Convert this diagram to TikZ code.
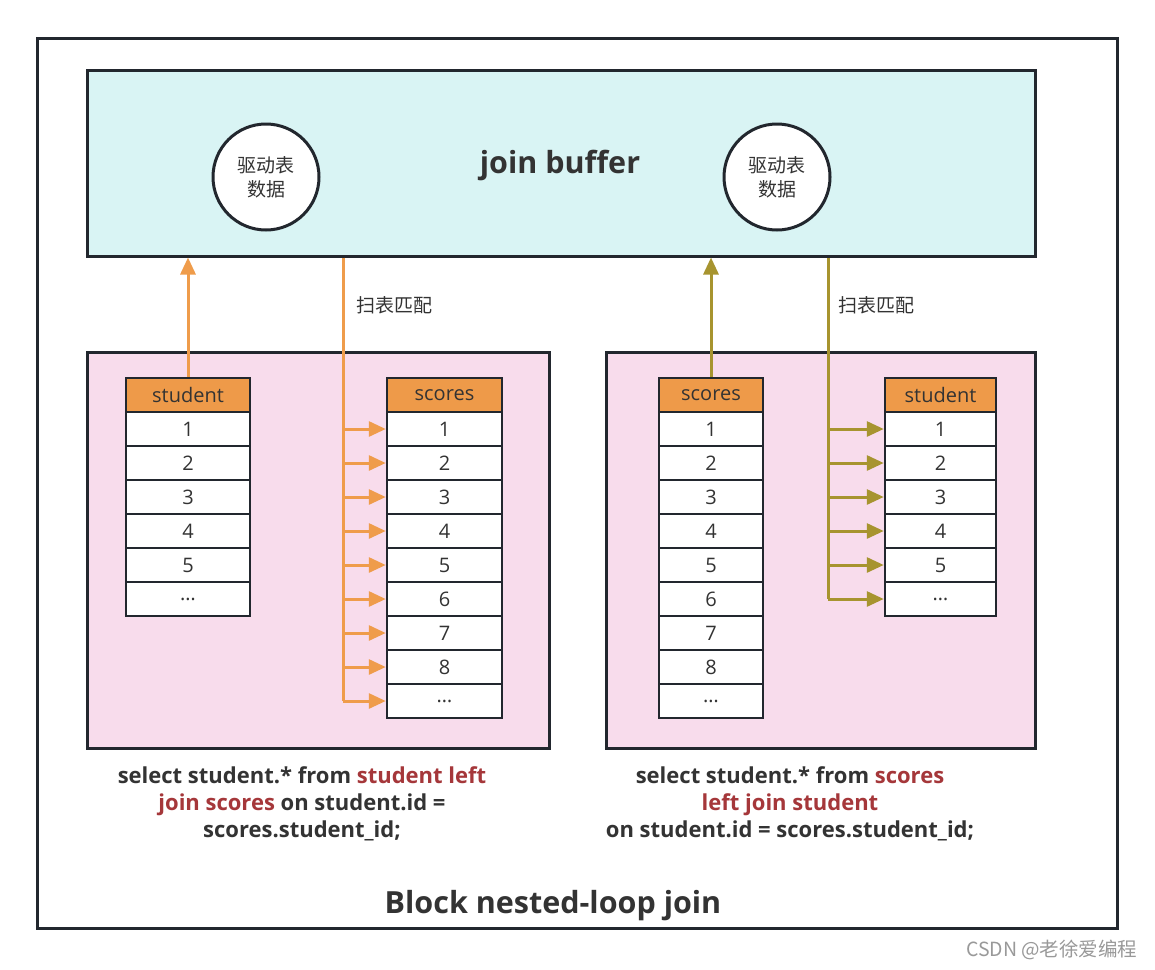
\documentclass[tikz,border=0pt]{standalone}
\usepackage{fontspec}
\setmainfont{Open Sans}
\newfontfamily\cjk{Noto Sans CJK SC}
\usetikzlibrary{arrows.meta}
\definecolor{framec}{HTML}{22272E}
\definecolor{bufc}{HTML}{D9F4F4}
\definecolor{pinkc}{HTML}{F8DCEC}
\definecolor{hdrc}{HTML}{EE9A49}
\definecolor{orc}{HTML}{EF9C4B}
\definecolor{olc}{HTML}{A7942F}
\definecolor{txtc}{HTML}{333333}
\definecolor{redc}{HTML}{A5373A}
\newcommand{\myell}{\ldots}
\tikzset{
  box/.style={draw=framec, line width=3},
  cell/.style={draw=framec, line width=2.5, fill=white, rectangle, minimum height=34, inner sep=0, text=txtc, font=\fontsize{20}{22}\selectfont},
  hdr/.style={cell, fill=hdrc},
  oline/.style={draw=orc, line width=3},
  olline/.style={draw=olc, line width=3},
  oarrow/.style={oline, -{Triangle[length=17, width=15]}},
  olarrow/.style={olline, -{Triangle[length=17, width=15]}},
  cjklabel/.style={font=\cjk\fontsize{19}{24}\selectfont, text=txtc},
  sqltext/.style={font=\bfseries\fontsize{22}{27}\selectfont, text=txtc, align=center},
}
\begin{document}
\begin{tikzpicture}[x=1pt,y=-1pt]
\useasboundingbox[fill=white] (0,0) rectangle (1155,969);
% outer frame
\draw[box] (37,38) rectangle (1117,928);
% join buffer
\node[box, fill=bufc, rectangle, minimum width=948, minimum height=186, inner sep=0] (jb) at (561,163) {};
\node[font=\bfseries\fontsize{30.5}{33}\selectfont, text=txtc] (jbt) at (560,165) {join buffer};
\node[box, circle, fill=white, minimum size=106, inner sep=0, align=center, cjklabel] (c1) at (266,177) {驱动表\\数据};
\node[box, circle, fill=white, minimum size=106, inner sep=0, align=center, cjklabel] (c2) at (777,177) {驱动表\\数据};
% pink boxes
\node[box, fill=pinkc, rectangle, minimum width=462, minimum height=396, inner sep=0] (pl) at (318,550) {};
\node[box, fill=pinkc, rectangle, minimum width=429, minimum height=396, inner sep=0] (pr) at (820.5,550) {};
% left student table
\node[hdr, minimum width=124] (ls) at (188,395) {student};
\foreach [count=\i] \v in {1,2,3,4,5,\myell}
  \node[cell, minimum width=124] (ls\i) at (188,{395+34*\i}) {\v};
% left scores table
\node[hdr, minimum width=115] (lc) at (444.5,395) {scores};
\foreach [count=\i] \v in {1,2,3,4,5,6,7,8,\myell}
  \node[cell, minimum width=115] (lc\i) at (444.5,{395+34*\i}) {\v};
% right scores table
\node[hdr, minimum width=104] (rc) at (711,395) {scores};
\foreach [count=\i] \v in {1,2,3,4,5,6,7,8,\myell}
  \node[cell, minimum width=104] (rc\i) at (711,{395+34*\i}) {\v};
% right student table
\node[hdr, minimum width=111] (rs) at (940.5,395) {student};
\foreach [count=\i] \v in {1,2,3,4,5,\myell}
  \node[cell, minimum width=111] (rs\i) at (940.5,{395+34*\i}) {\v};
% left arrows
\draw[oarrow] (ls.north) -- (ls.north |- jb.south);
\coordinate (lx) at (343,0);
\draw[oline] (jb.south -| lx) -- (lc9.west -| lx);
\foreach \i in {1,2,3,4,5,6,7,8,9}
  \draw[oarrow] (lc\i.west -| lx) -- (lc\i.west);
\node[cjklabel, anchor=west] (lbl1) at (353,305) {扫表匹配};
% right arrows
\draw[olarrow] (rc.north) -- (rc.north |- jb.south);
\coordinate (rx) at (828,0);
\draw[olline] (jb.south -| rx) -- (rs6.west -| rx);
\foreach \i in {1,2,3,4,5,6}
  \draw[olarrow] (rs\i.west -| rx) -- (rs\i.west);
\node[cjklabel, anchor=west] (lbl2) at (835,305) {扫表匹配};
% sql texts
\node[sqltext] (sql1) at (302,804) {select student.* from \textcolor{redc}{student left}\\\textcolor{redc}{join scores} on student.id =\\scores.student\_id;};
\node[sqltext] (sql2) at (790,804) {select student.* from \textcolor{redc}{scores}\\\textcolor{redc}{left join student}\\on student.id = scores.student\_id;};
% title
\node[font=\bfseries\fontsize{30.5}{33}\selectfont, text=txtc] (title) at (553,906) {Block nested-loop join};
% watermark
\node[font=\cjk\fontsize{19.5}{22}\selectfont, text=black!40, anchor=east] (wm) at (1141,950) {CSDN @老徐爱编程};
\end{tikzpicture}
\end{document}
